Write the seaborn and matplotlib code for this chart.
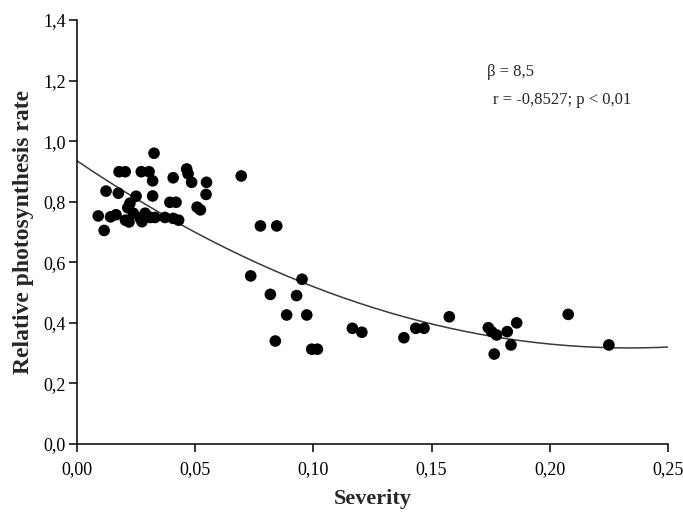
import numpy as np
import pandas as pd
import matplotlib
matplotlib.use("Agg")
import matplotlib.pyplot as plt
import seaborn as sns

# Disease severity vs. relative photosynthesis rate
severity = [
    0.0326, 0.0178, 0.0204, 0.0272, 0.0305, 0.0464, 0.0470, 0.0407, 0.0320,
    0.0485, 0.0548, 0.0695, 0.0123, 0.0175, 0.0250, 0.0320, 0.0546, 0.0224,
    0.0215, 0.0393, 0.0419, 0.0508, 0.0522, 0.0090, 0.0142, 0.0165, 0.0205,
    0.0238, 0.0268, 0.0275, 0.0288, 0.0310, 0.0330, 0.0372, 0.0407, 0.0430,
    0.0220, 0.0115, 0.0776, 0.0845,
    0.0735, 0.0952, 0.0818, 0.0929, 0.0887, 0.0972, 0.0839, 0.0993, 0.1017,
    0.1165, 0.1205, 0.1383, 0.1433, 0.1468, 0.1575, 0.1740, 0.1754, 0.1775,
    0.1765, 0.1820, 0.1860, 0.1836, 0.2078, 0.2250,
]
photo_rate = [
    0.960, 0.899, 0.899, 0.899, 0.899, 0.908, 0.892, 0.879, 0.869,
    0.864, 0.864, 0.885, 0.835, 0.828, 0.818, 0.819, 0.824, 0.795,
    0.780, 0.798, 0.798, 0.782, 0.773, 0.753, 0.750, 0.757, 0.739,
    0.762, 0.745, 0.734, 0.762, 0.748, 0.748, 0.748, 0.745, 0.739,
    0.733, 0.705, 0.720, 0.720,
    0.555, 0.544, 0.494, 0.490, 0.426, 0.426, 0.340, 0.313, 0.313,
    0.382, 0.369, 0.351, 0.382, 0.382, 0.420, 0.384, 0.371, 0.360,
    0.297, 0.371, 0.400, 0.327, 0.428, 0.327,
]

# Quadratic regression: y = a + b*x + c*x^2
fit_coef = [0.935, -5.287, 11.31]

x_ticks = [0.00, 0.05, 0.10, 0.15, 0.20, 0.25]
x_tick_labels = ["0,00", "0,05", "0,10", "0,15", "0,20", "0,25"]
y_ticks = [0.0, 0.2, 0.4, 0.6, 0.8, 1.0, 1.2, 1.4]
y_tick_labels = ["0,0", "0,2", "0,4", "0,6", "0,8", "1,0", "1,2", "1,4"]

stats_lines = ["\u03b2 = 8,5", "r = -0,8527; p < 0,01"]

sns.set_style("ticks")
plt.rcParams["font.family"] = ["Liberation Serif", "DejaVu Serif"]

fig = plt.figure(figsize=(6.83, 5.12), dpi=100)
ax = fig.add_axes([0.1127, 0.1328, 0.8653, 0.8282])

df = pd.DataFrame({"Severity": severity, "Rate": photo_rate})

xs = np.linspace(0.0, 0.25, 200)
curve = pd.DataFrame({"Severity": xs,
                      "Rate": fit_coef[0] + fit_coef[1] * xs + fit_coef[2] * xs ** 2})
sns.lineplot(data=curve, x="Severity", y="Rate", ax=ax, color="#3a3a3a",
             linewidth=1.1, zorder=2)

sns.scatterplot(data=df, x="Severity", y="Rate", ax=ax, color="black",
                s=70, edgecolor="none", linewidth=0, zorder=3)

ax.set_xlim(0.0, 0.25)
ax.set_ylim(0.0, 1.4)
ax.set_xticks(x_ticks)
ax.set_xticklabels(x_tick_labels)
ax.set_yticks(y_ticks)
ax.set_yticklabels(y_tick_labels)
ax.tick_params(axis="both", direction="out", length=6, width=1.1,
               labelsize=13, colors="black")
ax.tick_params(axis="y", pad=2)
ax.tick_params(axis="x", pad=6)

for side in ["top", "right"]:
    ax.spines[side].set_visible(False)
for side in ["left", "bottom"]:
    ax.spines[side].set_color("black")
    ax.spines[side].set_linewidth(1.1)

ax.set_xlabel("Severity", fontsize=16, fontweight="bold", labelpad=8)
ax.set_ylabel("Relative photosynthesis rate", fontsize=17, fontweight="bold",
              labelpad=7)

ax.text(0.1735, 1.228, stats_lines[0], fontsize=12, ha="left", va="center")
ax.text(0.176, 1.136, stats_lines[1], fontsize=12, ha="left", va="center")

fig.savefig("out.png", dpi=100, facecolor="white")
